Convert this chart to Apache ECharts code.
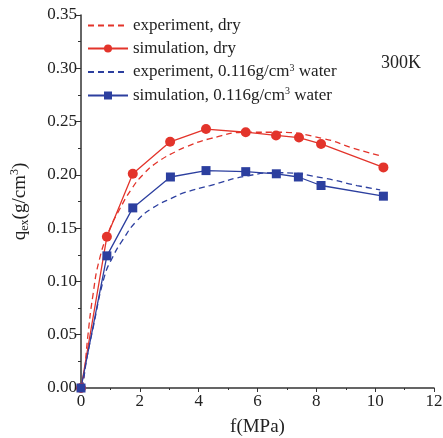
<!DOCTYPE html>
<html>
<head>
<meta charset="utf-8">
<script src="https://cdn.jsdelivr.net/npm/echarts@6/dist/echarts.min.js"></script>
<style>
  html, body { margin: 0; padding: 0; background: #fff; }
  #chart { width: 443px; height: 438px; }
</style>
</head>
<body>
<div id="chart"></div>
<script>
// simulation points (f in MPa, q_ex in g/cm3)
const simDryX = [0, 0.88, 1.76, 3.03, 4.25, 5.6, 6.63, 7.41, 8.16, 10.28];
const simDryY = [0, 0.142, 0.201, 0.231, 0.243, 0.240, 0.237, 0.235, 0.229, 0.207];
const simWetX = [0, 0.88, 1.76, 3.04, 4.25, 5.6, 6.64, 7.39, 8.16, 10.28];
const simWetY = [0, 0.124, 0.169, 0.198, 0.204, 0.203, 0.201, 0.198, 0.190, 0.180];

// experiment curves
const expDryX = [0, 0.08, 0.23, 0.4, 0.62, 0.96, 1.3, 1.7, 2.1, 2.6, 3.23, 3.54, 4.39, 5.64, 6.66, 8.24, 9.26, 10.17];
const expDryY = [0, 0.006, 0.048, 0.086, 0.120, 0.148, 0.167, 0.186, 0.200, 0.212, 0.222, 0.226, 0.234, 0.240, 0.240, 0.234, 0.225, 0.218];
const expWetX = [0, 0.06, 0.2, 0.4, 0.79, 1.08, 1.42, 1.87, 2.44, 3.23, 3.48, 4.39, 5.64, 6.77, 8.24, 9.38, 10.17];
const expWetY = [0, 0.004, 0.028, 0.055, 0.104, 0.123, 0.139, 0.156, 0.169, 0.180, 0.183, 0.190, 0.199, 0.202, 0.197, 0.190, 0.186];

const seriesNames = ['experiment, dry', 'simulation, dry', 'experiment, 0.116g/cm3 water', 'simulation, 0.116g/cm3 water'];

const red = '#e3342b';
const blue = '#2c3f9f';
const font = 'Liberation Serif';

function pairs(xs, ys) {
  return xs.map((x, i) => [x, ys[i]]);
}

const chart = echarts.init(document.getElementById('chart'));
chart.setOption({
  animation: false,
  grid: { left: 81, right: 9, top: 15, bottom: 50, outerBoundsMode: 'none' },
  textStyle: { fontFamily: font },
  legend: {
    left: 82,
    top: 12,
    orient: 'vertical',
    itemWidth: 40,
    itemHeight: 10,
    itemGap: 6,
    data: [
      { name: seriesNames[0], itemStyle: { opacity: 0 } },
      { name: seriesNames[1] },
      { name: seriesNames[2], itemStyle: { opacity: 0 } },
      { name: seriesNames[3] }
    ],
    formatter: function (name) {
      return name.replace('cm3', 'cm{sup|3}');
    },
    textStyle: {
      fontFamily: font,
      fontSize: 17,
      color: '#222',
      rich: {
        sup: { fontFamily: font, fontSize: 10, verticalAlign: 'top', padding: [0, 0, 8, 0], color: '#222' }
      }
    }
  },
  graphic: [{
    type: 'text',
    left: 381,
    top: 54,
    style: { text: '300K', fontFamily: font, fontSize: 18, fill: '#222' }
  }],
  xAxis: {
    type: 'value',
    min: 0, max: 12, interval: 2,
    name: 'f(MPa)',
    nameLocation: 'middle',
    nameGap: 30,
    nameTextStyle: { fontFamily: font, fontSize: 19, color: '#222' },
    axisLine: { lineStyle: { color: '#333', width: 1.5 } },
    axisTick: { show: true, length: 4, inside: false, lineStyle: { color: '#333' } },
    minorTick: { show: true, splitNumber: 2, length: 2, lineStyle: { color: '#333' } },
    splitLine: { show: false },
    axisLabel: { fontFamily: font, fontSize: 17, color: '#222', margin: 5 }
  },
  yAxis: {
    type: 'value',
    min: 0, max: 0.35, interval: 0.05,
    name: 'q{sub|ex}(g/cm{sup|3})',
    nameLocation: 'middle',
    nameGap: 50,
    nameTextStyle: {
      fontFamily: font, fontSize: 19, color: '#222',
      rich: {
        sub: { fontFamily: font, fontSize: 12, verticalAlign: 'bottom', padding: [10, 0, 0, 0], color: '#222' },
        sup: { fontFamily: font, fontSize: 12, verticalAlign: 'top', padding: [0, 0, 10, 0], color: '#222' }
      }
    },
    axisLine: { show: true, lineStyle: { color: '#333', width: 1.5 } },
    axisTick: { show: true, length: 5, lineStyle: { color: '#333' } },
    minorTick: { show: true, splitNumber: 2, length: 3, lineStyle: { color: '#333' } },
    splitLine: { show: false },
    axisLabel: {
      fontFamily: font, fontSize: 17, color: '#222', margin: 4,
      formatter: function (v) { return v.toFixed(2); }
    }
  },
  series: [
    {
      name: seriesNames[0],
      type: 'line',
      data: pairs(expDryX, expDryY),
      smooth: true,
      symbol: 'none',
      lineStyle: { color: red, width: 1.3, type: [6, 4] },
      itemStyle: { color: red },
      z: 2
    },
    {
      name: seriesNames[1],
      type: 'line',
      data: pairs(simDryX, simDryY),
      symbol: 'circle',
      symbolSize: 10,
      lineStyle: { color: red, width: 1.3 },
      itemStyle: { color: red },
      z: 3
    },
    {
      name: seriesNames[2],
      type: 'line',
      data: pairs(expWetX, expWetY),
      smooth: true,
      symbol: 'none',
      lineStyle: { color: blue, width: 1.3, type: [6, 4] },
      itemStyle: { color: blue },
      z: 2
    },
    {
      name: seriesNames[3],
      type: 'line',
      data: pairs(simWetX, simWetY),
      symbol: 'rect',
      symbolSize: 9,
      lineStyle: { color: blue, width: 1.3 },
      itemStyle: { color: blue },
      z: 3
    }
  ]
});
</script>
</body>
</html>
